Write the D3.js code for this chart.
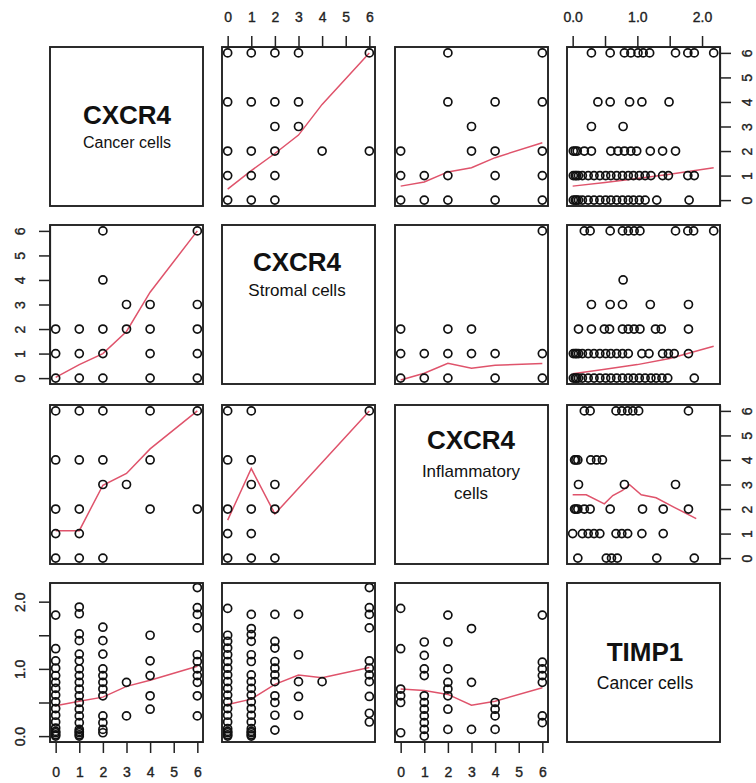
<!DOCTYPE html>
<html><head><meta charset="utf-8">
<script src="https://cdn.jsdelivr.net/npm/d3@7"></script>
<style>body{margin:0;background:#fff}svg{display:block}</style>
</head><body>
<script>
// ---------- DATA ----------
const variables = ["CXCR4_cancer", "CXCR4_stromal", "CXCR4_inflammatory", "TIMP1_cancer"];
const diagTitles = ["CXCR4", "CXCR4", "CXCR4", "TIMP1"];
const diagSubtitles = [["Cancer cells"], ["Stromal cells"], ["Inflammatory", "cells"], ["Cancer cells"]];
const scoreTicks = [0, 1, 2, 3, 4, 5, 6];
const timpTicks = [0, 0.5, 1, 1.5, 2];
const timpTickLabels = ["0.0", "", "1.0", "", "2.0"];
const scoreExtent = [0, 6];
const timpExtent = [0, 2.19];

// panel points: [x value, y value]   (row var = y, column var = x)
const pts_r1c2 = [[0,6],[1,6],[2,6],[3,6],[6,6],[0,4],[1,4],[2,4],[3,4],[2,3],[3,3],[0,2],[1,2],[2,2],[4,2],[6,2],[0,1],[1,1],[2,1],[0,0],[1,0],[2,0]];
const pts_r1c3 = [[2,6],[6,6],[2,4],[4,4],[6,4],[3,3],[0,2],[3,2],[4,2],[6,2],[0,1],[1,1],[2,1],[4,1],[6,1],[0,0],[1,0],[2,0],[4,0],[6,0]];
const timp_r1c4_y6 = [0.29,0.58,0.80,0.90,1.01,1.09,1.19,1.59,1.78,1.88,2.18];
const timp_r1c4_y4 = [0.39,0.58,0.88,1.07,1.49];
const timp_r1c4_y3 = [0.29,0.78];
const timp_r1c4_y2 = [0.01,0.04,0.07,0.18,0.29,0.59,0.70,0.80,0.90,0.99,1.20,1.39,1.59];
const timp_r1c4_y1 = [0.01,0.04,0.06,0.09,0.15,0.24,0.33,0.42,0.51,0.59,0.68,0.77,0.86,0.94,1.03,1.12,1.21,1.39,1.48,1.78,1.88];
const timp_r1c4_y0 = [0.01,0.04,0.06,0.09,0.15,0.24,0.33,0.42,0.51,0.59,0.68,0.77,0.86,0.94,1.03,1.12,1.30,1.80];

const pts_r2c1 = [[2,6],[6,6],[2,4],[3,3],[4,3],[6,3],[0,2],[1,2],[2,2],[3,2],[4,2],[6,2],[0,1],[1,1],[2,1],[4,1],[6,1],[0,0],[1,0],[2,0],[4,0],[6,0]];
const pts_r2c3 = [[6,6],[0,2],[2,2],[3,2],[0,1],[1,1],[2,1],[3,1],[4,1],[6,1],[0,0],[1,0],[2,0],[4,0],[6,0]];
const timp_r2c4_y6 = [0.18,0.27,0.58,0.77,0.86,0.95,1.04,1.59,1.78,1.87,2.18];
const timp_r2c4_y4 = [0.78];
const timp_r2c4_y3 = [0.29,0.58,0.77,1.20,1.79];
const timp_r2c4_y2 = [0.09,0.29,0.49,0.57,0.77,0.86,0.95,1.04,1.28,1.37,1.79];
const timp_r2c4_y1 = [0.01,0.04,0.06,0.09,0.15,0.24,0.33,0.42,0.51,0.59,0.68,0.77,0.86,1.07,1.18,1.39,1.48,1.57,1.79];
const timp_r2c4_y0 = [0.01,0.04,0.06,0.09,0.15,0.24,0.33,0.42,0.51,0.59,0.68,0.77,0.86,0.94,1.03,1.12,1.21,1.29,1.38,1.47,1.88];

const pts_r3c1 = [[0,6],[1,6],[2,6],[4,6],[6,6],[0,4],[1,4],[2,4],[4,4],[2,3],[3,3],[0,2],[1,2],[4,2],[6,2],[0,1],[1,1],[0,0],[1,0],[2,0]];
const pts_r3c2 = [[0,6],[1,6],[6,6],[0,4],[1,4],[1,3],[2,3],[0,2],[1,2],[2,2],[0,1],[1,1],[0,0],[1,0],[2,0]];
const timp_r3c4_y6 = [0.18,0.27,0.67,0.76,0.85,0.93,1.02,1.79];
const timp_r3c4_y4 = [0.03,0.05,0.08,0.28,0.37,0.46];
const timp_r3c4_y3 = [0.09,0.80,1.59];
const timp_r3c4_y2 = [0.03,0.05,0.08,0.18,0.27,0.58,1.08,1.40,1.79];
const timp_r3c4_y1 = [0.00,0.15,0.24,0.33,0.42,0.67,0.76,0.85,1.07,1.40];
const timp_r3c4_y0 = [0.08,0.52,0.60,0.69,1.30,1.88];

const timp_r4c1_x0 = [1.80,1.30,1.12,1.01,0.90,0.80,0.71,0.61,0.51,0.41,0.31,0.21,0.12,0.07,0.05,0.02,0.00];
const timp_r4c1_x1 = [1.92,1.82,1.52,1.42,1.22,1.12,1.00,0.90,0.80,0.70,0.60,0.50,0.40,0.30,0.20,0.10,0.07,0.05,0.02,0.00];
const timp_r4c1_x2 = [1.62,1.42,1.22,1.00,0.90,0.80,0.70,0.60,0.30,0.20,0.10,0.05];
const timp_r4c1_x3 = [0.80,0.30];
const timp_r4c1_x4 = [1.50,1.12,0.90,0.60,0.40];
const timp_r4c1_x6 = [2.21,1.91,1.81,1.61,1.21,1.11,1.00,0.90,0.80,0.60,0.30];

const timp_r4c2_x0 = [1.90,1.50,1.41,1.31,1.21,1.11,1.01,0.91,0.81,0.71,0.61,0.51,0.41,0.31,0.21,0.11,0.07,0.05,0.02,0.00];
const timp_r4c2_x1 = [1.81,1.60,1.51,1.41,1.21,1.11,0.91,0.81,0.71,0.61,0.51,0.41,0.31,0.21,0.11,0.07,0.05,0.02,0.00];
const timp_r4c2_x2 = [1.81,1.41,1.31,1.11,1.01,0.91,0.81,0.60,0.50,0.31,0.09];
const timp_r4c2_x3 = [1.81,1.21,0.81,0.59,0.31];
const timp_r4c2_x4 = [0.81];
const timp_r4c2_x6 = [2.21,1.91,1.81,1.61,1.12,1.01,0.91,0.81,0.59,0.34,0.21];

const timp_r4c3_x0 = [1.90,1.30,0.70,0.60,0.50,0.05];
const timp_r4c3_x1 = [1.40,1.20,1.00,0.90,0.60,0.50,0.40,0.30,0.20,0.10,0.00];
const timp_r4c3_x2 = [1.80,1.40,1.00,0.80,0.70,0.60,0.40,0.10];
const timp_r4c3_x3 = [1.60,0.80,0.10];
const timp_r4c3_x4 = [0.50,0.40,0.30,0.10];
const timp_r4c3_x6 = [1.80,1.10,1.00,0.90,0.80,0.30,0.20];

// lowess smoothers [x, y]
const smooth_r1c2 = [[0,0.45],[1,1.2],[2,1.9],[3,2.65],[4,3.9],[6,6.0]];
const smooth_r1c3 = [[0,0.57],[1,0.74],[2,1.15],[3,1.32],[4,1.73],[6,2.34]];
const smooth_r1c4 = [[0,0.57],[0.5,0.72],[1.0,0.88],[1.5,1.05],[2.18,1.32]];
const smooth_r2c1 = [[0,0.03],[1,0.55],[2,1.0],[3,1.9],[4,3.5],[6,6.0]];
const smooth_r2c3 = [[0,-0.08],[1,0.2],[2,0.6],[3,0.4],[4,0.52],[6,0.6]];
const smooth_r2c4 = [[0,0.18],[0.5,0.36],[1.0,0.55],[1.5,0.8],[2.18,1.3]];
const smooth_r3c1 = [[0,1.12],[1,1.12],[2,2.97],[3,3.45],[4,4.45],[6,6.0]];
const smooth_r3c2 = [[0,1.55],[1,3.65],[2,1.8],[6,6.0]];
const smooth_r3c4 = [[0,2.58],[0.21,2.58],[0.49,2.21],[0.62,2.55],[0.77,2.76],[0.88,2.99],[1.06,2.58],[1.29,2.46],[1.57,2.07],[1.91,1.61]];
const smooth_r4c1 = [[0,0.45],[1,0.52],[2,0.58],[3,0.74],[4,0.83],[6,1.04]];
const smooth_r4c2 = [[0,0.47],[1,0.55],[2,0.77],[3,0.91],[4,0.87],[6,1.02]];
const smooth_r4c3 = [[0,0.70],[1,0.68],[2,0.62],[3,0.46],[4,0.52],[6,0.72]];

// ---------- BUILD ----------
const W = 756, H = 783;
const colX = [50, 222, 395, 567], rowY = [47, 225, 405, 583];
const PW = 153, PH = 159;

function expand(ext){ const p = (ext[1]-ext[0])*0.04; return [ext[0]-p, ext[1]+p]; }
const isTimp = i => i === 3;
function xScale(c){ return d3.scaleLinear().domain(expand(isTimp(c)?timpExtent:scoreExtent)).range([colX[c], colX[c]+PW]); }
function yScale(r){ return d3.scaleLinear().domain(expand(isTimp(r)?timpExtent:scoreExtent)).range([rowY[r]+PH, rowY[r]]); }

const rowsFromLists = (ys, lists) => lists.flatMap((l,i)=>l.map(v=>[v, ys[i]]));
const colsFromLists = (xs, lists) => lists.flatMap((l,i)=>l.map(v=>[xs[i], v]));

const panels = {
  "0-1": {pts: pts_r1c2, sm: smooth_r1c2},
  "0-2": {pts: pts_r1c3, sm: smooth_r1c3},
  "0-3": {pts: rowsFromLists([6,4,3,2,1,0],[timp_r1c4_y6,timp_r1c4_y4,timp_r1c4_y3,timp_r1c4_y2,timp_r1c4_y1,timp_r1c4_y0]), sm: smooth_r1c4},
  "1-0": {pts: pts_r2c1, sm: smooth_r2c1},
  "1-2": {pts: pts_r2c3, sm: smooth_r2c3},
  "1-3": {pts: rowsFromLists([6,4,3,2,1,0],[timp_r2c4_y6,timp_r2c4_y4,timp_r2c4_y3,timp_r2c4_y2,timp_r2c4_y1,timp_r2c4_y0]), sm: smooth_r2c4},
  "2-0": {pts: pts_r3c1, sm: smooth_r3c1},
  "2-1": {pts: pts_r3c2, sm: smooth_r3c2},
  "2-3": {pts: rowsFromLists([6,4,3,2,1,0],[timp_r3c4_y6,timp_r3c4_y4,timp_r3c4_y3,timp_r3c4_y2,timp_r3c4_y1,timp_r3c4_y0]), sm: smooth_r3c4},
  "3-0": {pts: colsFromLists([0,1,2,3,4,6],[timp_r4c1_x0,timp_r4c1_x1,timp_r4c1_x2,timp_r4c1_x3,timp_r4c1_x4,timp_r4c1_x6]), sm: smooth_r4c1},
  "3-1": {pts: colsFromLists([0,1,2,3,4,6],[timp_r4c2_x0,timp_r4c2_x1,timp_r4c2_x2,timp_r4c2_x3,timp_r4c2_x4,timp_r4c2_x6]), sm: smooth_r4c2},
  "3-2": {pts: colsFromLists([0,1,2,3,4,6],[timp_r4c3_x0,timp_r4c3_x1,timp_r4c3_x2,timp_r4c3_x3,timp_r4c3_x4,timp_r4c3_x6]), sm: smooth_r4c3}
};

const svg = d3.select("body").append("svg").attr("width", W).attr("height", H)
  .style("font-family", "'Liberation Sans', Arial, sans-serif");

const diagLayout = [
  {cx: 127, ys: [115, 142], sizes: [26, 16]},
  {cx: 297, ys: [262, 290], sizes: [26, 17]},
  {cx: 471, ys: [440, 471, 493], sizes: [26, 17, 17]},
  {cx: 645, ys: [652, 683], sizes: [26, 17.5]}
];

for (let r = 0; r < 4; r++) {
  for (let c = 0; c < 4; c++) {
    const g = svg.append("g");
    const xs = xScale(c), ys = yScale(r);
    if (r === c) {
      const L = diagLayout[r];
      const lines = [diagTitles[r], ...diagSubtitles[r]];
      lines.forEach((t, i) => {
        g.append("text").attr("x", L.cx).attr("y", L.ys[i])
          .attr("text-anchor", "middle").attr("dominant-baseline", "central")
          .attr("font-size", L.sizes[i]).attr("font-weight", i === 0 ? "bold" : "normal")
          .attr("fill", "#111").text(t);
      });
    } else {
      const p = panels[r + "-" + c];
      g.append("path").datum(p.sm)
        .attr("fill", "none").attr("stroke", "#DF536B").attr("stroke-width", 1.5)
        .attr("d", d3.line().x(d => xs(d[0])).y(d => ys(d[1])));
      g.selectAll("circle").data(p.pts).join("circle")
        .attr("cx", d => xs(d[0])).attr("cy", d => ys(d[1])).attr("r", 4)
        .attr("fill", "none").attr("stroke", "#111").attr("stroke-width", 1.7);
    }
    g.append("rect").attr("x", colX[c]).attr("y", rowY[r]).attr("width", PW).attr("height", PH)
      .attr("fill", "none").attr("stroke", "#222").attr("stroke-width", 1.9);
  }
}

// ---------- AXES ----------
function styleAxis(sel){
  sel.select(".domain").attr("stroke", "#222").attr("stroke-width", 1.2);
  sel.selectAll(".tick line").attr("stroke", "#222").attr("stroke-width", 1.5);
  sel.selectAll(".tick text").attr("fill", "#222").attr("font-size", 14)
    .attr("stroke", "#222").attr("stroke-width", 0.35)
    .attr("font-family", "'Liberation Sans', Arial, sans-serif");
}
function fmt(i){ return isTimp(i) ? (d => timpTickLabels[timpTicks.indexOf(d)]) : (d => String(d)); }
function ticks(i){ return isTimp(i) ? timpTicks : scoreTicks; }

// top axes for columns 1 and 3 (0-based), bottom for columns 0 and 2
[1, 3].forEach(c => {
  const a = d3.axisTop(xScale(c)).tickValues(ticks(c)).tickFormat(fmt(c)).tickSize(11).tickSizeOuter(0);
  const s = svg.append("g").attr("transform", `translate(0,${rowY[0]})`).call(a); styleAxis(s);
  s.selectAll(".tick text").attr("dy", 0).attr("y", -30).attr("dominant-baseline", "central");
});
[0, 2].forEach(c => {
  const a = d3.axisBottom(xScale(c)).tickValues(ticks(c)).tickFormat(fmt(c)).tickSize(11).tickSizeOuter(0);
  const s = svg.append("g").attr("transform", `translate(0,${rowY[3]+PH})`).call(a); styleAxis(s);
  s.selectAll(".tick text").attr("dy", 0).attr("y", 30).attr("dominant-baseline", "central");
});
// left axes for rows 1 and 3, right axes for rows 0 and 2
[1, 3].forEach(r => {
  const a = d3.axisLeft(yScale(r)).tickValues(ticks(r)).tickFormat(fmt(r)).tickSize(11).tickSizeOuter(0);
  const s = svg.append("g").attr("transform", `translate(${colX[0]},0)`).call(a); styleAxis(s);
  s.selectAll(".tick text").attr("x", 0).attr("dy", 0).attr("text-anchor", "middle")
    .attr("dominant-baseline", "central").attr("transform", "translate(-30,0) rotate(-90)");
});
[0, 2].forEach(r => {
  const a = d3.axisRight(yScale(r)).tickValues(ticks(r)).tickFormat(fmt(r)).tickSize(11).tickSizeOuter(0);
  const s = svg.append("g").attr("transform", `translate(${colX[3]+PW},0)`).call(a); styleAxis(s);
  s.selectAll(".tick text").attr("x", 0).attr("dy", 0).attr("text-anchor", "middle")
    .attr("dominant-baseline", "central").attr("transform", "translate(27,0) rotate(-90)");
});
</script>
</body></html>
